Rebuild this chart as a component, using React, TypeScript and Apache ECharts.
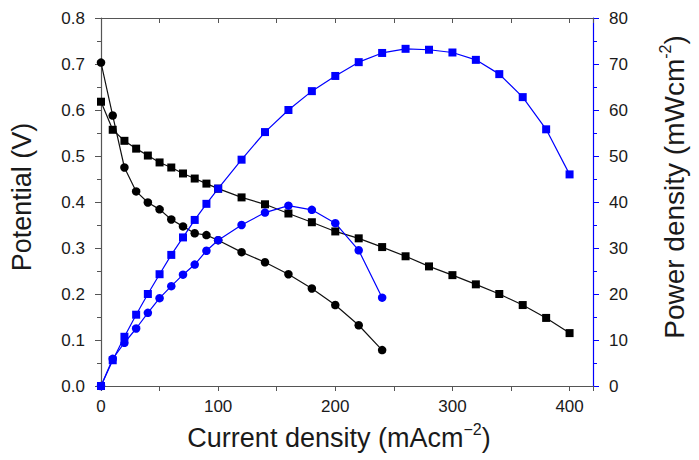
import React, { useEffect, useRef } from "react";
import * as echarts from "echarts";

// Current density (mA cm^-2)
const currentSq = [0, 10, 20, 30, 40, 50, 60, 70, 80, 90, 100, 120, 140, 160, 180, 200, 220, 240, 260, 280, 300, 320, 340, 360, 380, 400];
const potentialSq = [0.618, 0.557, 0.533, 0.516, 0.501, 0.486, 0.475, 0.462, 0.451, 0.44, 0.429, 0.41, 0.395, 0.375, 0.356, 0.336, 0.321, 0.302, 0.282, 0.26, 0.241, 0.221, 0.2, 0.176, 0.148, 0.115];
const powerSq = [0, 5.6, 10.7, 15.5, 20.0, 24.3, 28.5, 32.3, 36.1, 39.6, 42.9, 49.2, 55.2, 60.0, 64.1, 67.4, 70.4, 72.4, 73.3, 73.1, 72.5, 70.9, 67.8, 62.8, 55.8, 46.0];

const currentCi = [0, 10, 20, 30, 40, 50, 60, 70, 80, 90, 100, 120, 140, 160, 180, 200, 220, 240];
const potentialCi = [0.703, 0.588, 0.475, 0.423, 0.399, 0.384, 0.362, 0.347, 0.332, 0.328, 0.317, 0.291, 0.269, 0.243, 0.212, 0.176, 0.132, 0.078];
const powerCi = [0, 5.9, 9.4, 12.5, 15.9, 19.1, 21.7, 24.2, 26.4, 29.4, 31.7, 35.0, 37.7, 39.2, 38.3, 35.4, 29.5, 19.2];

const FONT = "Liberation Sans, Arial, Helvetica, sans-serif";
const BLUE = "#0000ff";
const TXT = "#1a1a1a";
const AX = "#555";
const zip = (xs: number[], ys: number[]) => xs.map((x, i) => [x, ys[i]]);

export default function App() {
  const ref = useRef<HTMLDivElement>(null);
  useEffect(() => {
    if (!ref.current) return;
    const chart = echarts.init(ref.current, undefined, { renderer: "svg" });
    const supRich = {
      sup: { fontSize: 16, verticalAlign: "top", fontFamily: FONT, color: TXT, lineHeight: 34 },
    };
    chart.setOption({
      animation: false,
      backgroundColor: "#fff",
      textStyle: { fontFamily: FONT },
      grid: { left: 94, right: 103, top: 18, bottom: 74 },
      xAxis: [
        {
          type: "value",
          position: "bottom",
          min: 0,
          max: 420,
          interval: 50,
          name: "Current density (mAcm{sup|−2})",
          nameLocation: "middle",
          nameGap: 35,
          nameTextStyle: { fontSize: 27, color: TXT, fontFamily: FONT, lineHeight: 34, rich: supRich, padding: [0, 16, 0, 0] },
          axisLine: { show: true, onZero: false, lineStyle: { color: AX, width: 1.2 } },
          axisTick: { show: true, inside: false, length: 5, lineStyle: { color: AX } },
          axisLabel: {
            fontSize: 17,
            color: TXT,
            margin: 12,
            fontFamily: FONT,
            formatter: (v: number) => (v % 100 === 0 ? String(v) : ""),
          },
          splitLine: { show: false },
        },
        {
          type: "value",
          position: "top",
          min: 0,
          max: 420,
          interval: 50,
          axisLine: { show: true, onZero: false, lineStyle: { color: AX, width: 1.2 } },
          axisTick: { show: true, inside: true, length: 5, lineStyle: { color: AX } },
          axisLabel: { show: false },
          splitLine: { show: false },
        },
      ],
      yAxis: [
        {
          type: "value",
          position: "left",
          min: 0,
          max: 0.8,
          interval: 0.1,
          name: "Potential (V)",
          nameLocation: "middle",
          nameRotate: 90,
          nameGap: 66,
          nameTextStyle: { fontSize: 27, color: TXT, fontFamily: FONT, padding: [0, 0, 0, 10] },
          axisLine: { show: true, onZero: false, lineStyle: { color: AX, width: 1.2 } },
          axisTick: { show: true, length: 6, lineStyle: { color: AX } },
          minorTick: { show: true, splitNumber: 2, length: 4, lineStyle: { color: AX } },
          axisLabel: { fontSize: 17, color: TXT, margin: 16, fontFamily: FONT, formatter: (v: number) => v.toFixed(1) },
          splitLine: { show: false },
        },
        {
          type: "value",
          position: "right",
          min: 0,
          max: 80,
          interval: 10,
          name: "Power density (mWcm{sup|-2})",
          nameLocation: "middle",
          nameRotate: 90,
          nameGap: 64,
          nameTextStyle: { fontSize: 28, color: TXT, fontFamily: FONT, lineHeight: 34, rich: supRich, padding: [0, 0, 0, 30] },
          axisLine: { show: true, onZero: false, lineStyle: { color: BLUE, width: 1.2 } },
          axisTick: { show: true, length: 6, lineStyle: { color: BLUE } },
          minorTick: { show: true, splitNumber: 2, length: 4, lineStyle: { color: BLUE } },
          axisLabel: { fontSize: 17, color: TXT, margin: 16, fontFamily: FONT },
          splitLine: { show: false },
        },
      ],
      series: [
        {
          type: "line",
          name: "V square",
          xAxisIndex: 0,
          yAxisIndex: 0,
          data: zip(currentSq, potentialSq),
          symbol: "rect",
          symbolSize: 8,
          itemStyle: { color: "#000" },
          lineStyle: { color: "#111", width: 1.2 },
        },
        {
          type: "line",
          name: "V circle",
          xAxisIndex: 0,
          yAxisIndex: 0,
          data: zip(currentCi, potentialCi),
          symbol: "circle",
          symbolSize: 8.5,
          itemStyle: { color: "#000" },
          lineStyle: { color: "#111", width: 1.2 },
        },
        {
          type: "line",
          name: "P square",
          xAxisIndex: 0,
          yAxisIndex: 1,
          data: zip(currentSq, powerSq),
          symbol: "rect",
          symbolSize: 8,
          itemStyle: { color: BLUE },
          lineStyle: { color: BLUE, width: 1.2 },
        },
        {
          type: "line",
          name: "P circle",
          xAxisIndex: 0,
          yAxisIndex: 1,
          data: zip(currentCi, powerCi),
          symbol: "circle",
          symbolSize: 8.5,
          itemStyle: { color: BLUE },
          lineStyle: { color: BLUE, width: 1.2 },
        },
      ],
    });
    return () => chart.dispose();
  }, []);
  return <div ref={ref} style={{ position: "fixed", left: 0, top: 0, width: 699, height: 460 }} />;
}
